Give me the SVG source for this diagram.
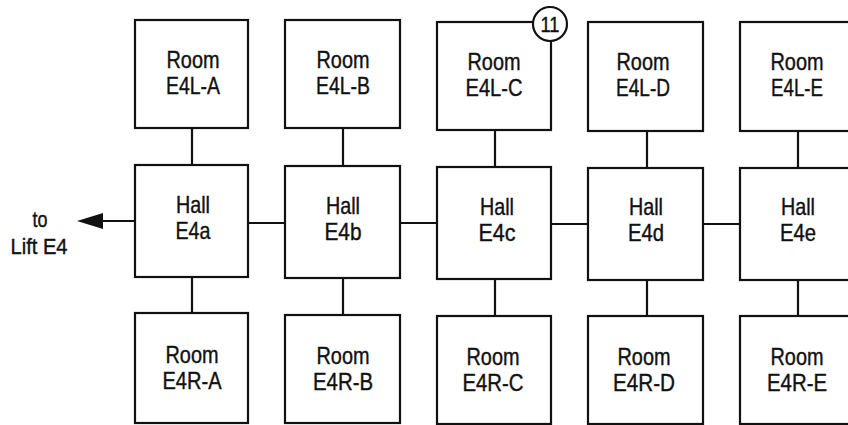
<svg xmlns="http://www.w3.org/2000/svg" width="848" height="425" viewBox="0 0 848 425">
<defs>
<style>
.box{fill:#fff;stroke:#111;stroke-width:2.2}
.ln{stroke:#111;stroke-width:2.2;fill:none}
text{font-family:"Liberation Sans",Arial,sans-serif;font-size:24px;fill:#111;stroke:#111;stroke-width:0.4;text-anchor:middle}
.sm{font-size:22px}
</style>
</defs>
<rect width="848" height="425" fill="#fff"/>
<g id="connectors">
<line class="ln" x1="192" y1="128" x2="192" y2="165"/>
<line class="ln" x1="343" y1="128" x2="343" y2="166"/>
<line class="ln" x1="495" y1="130" x2="495" y2="167"/>
<line class="ln" x1="647" y1="131" x2="647" y2="167"/>
<line class="ln" x1="798" y1="131" x2="798" y2="167"/>
<line class="ln" x1="192" y1="277" x2="192" y2="313"/>
<line class="ln" x1="343" y1="278" x2="343" y2="315"/>
<line class="ln" x1="495" y1="279" x2="495" y2="316"/>
<line class="ln" x1="647" y1="280" x2="647" y2="316"/>
<line class="ln" x1="798" y1="280" x2="798" y2="316"/>
<line class="ln" x1="248" y1="223" x2="285" y2="223"/>
<line class="ln" x1="400" y1="223" x2="437" y2="223"/>
<line class="ln" x1="551" y1="224" x2="588" y2="224"/>
<line class="ln" x1="703" y1="224" x2="740" y2="224"/>
<path class="ln" d="M135,221 L102,221"/>
<path d="M77,221 L103,213 L103,229 Z" fill="#111"/>
</g>
<g id="lift-label">
<text x="40" y="227" textLength="15" lengthAdjust="spacingAndGlyphs" class="sm">to</text>
<text x="39" y="254" textLength="57" lengthAdjust="spacingAndGlyphs" class="sm">Lift E4</text>
</g>
<g id="room-E4L-A"><rect class="box" x="135" y="20" width="113" height="108"/>
<text x="193" y="68" textLength="53" lengthAdjust="spacingAndGlyphs">Room</text>
<text x="193" y="94" textLength="54" lengthAdjust="spacingAndGlyphs">E4L-A</text></g>
<g id="room-E4L-B"><rect class="box" x="285" y="20" width="115" height="108"/>
<text x="343" y="68" textLength="53" lengthAdjust="spacingAndGlyphs">Room</text>
<text x="343" y="94" textLength="54" lengthAdjust="spacingAndGlyphs">E4L-B</text></g>
<g id="room-E4L-C"><rect class="box" x="437" y="22" width="114" height="108"/>
<text x="494" y="70" textLength="53" lengthAdjust="spacingAndGlyphs">Room</text>
<text x="494" y="96" textLength="57" lengthAdjust="spacingAndGlyphs">E4L-C</text></g>
<g id="badge-11"><circle cx="550" cy="24" r="17" fill="#fff" stroke="#111" stroke-width="2.2"/>
<text x="550" y="32" class="sm" textLength="19" lengthAdjust="spacingAndGlyphs">11</text></g>
<g id="room-E4L-D"><rect class="box" x="588" y="22" width="115" height="109"/>
<text x="643" y="70" textLength="53" lengthAdjust="spacingAndGlyphs">Room</text>
<text x="643" y="96" textLength="54" lengthAdjust="spacingAndGlyphs">E4L-D</text></g>
<g id="room-E4L-E"><rect class="box" x="740" y="22" width="114" height="109"/>
<text x="797" y="70" textLength="53" lengthAdjust="spacingAndGlyphs">Room</text>
<text x="797" y="96" textLength="52" lengthAdjust="spacingAndGlyphs">E4L-E</text></g>
<g id="hall-E4a"><rect class="box" x="135" y="165" width="113" height="112"/>
<text x="193" y="213" textLength="34" lengthAdjust="spacingAndGlyphs">Hall</text>
<text x="193" y="239" textLength="35" lengthAdjust="spacingAndGlyphs">E4a</text></g>
<g id="hall-E4b"><rect class="box" x="285" y="166" width="115" height="112"/>
<text x="343" y="214" textLength="34" lengthAdjust="spacingAndGlyphs">Hall</text>
<text x="343" y="240" textLength="37" lengthAdjust="spacingAndGlyphs">E4b</text></g>
<g id="hall-E4c"><rect class="box" x="437" y="167" width="114" height="112"/>
<text x="497" y="215" textLength="34" lengthAdjust="spacingAndGlyphs">Hall</text>
<text x="497" y="241" textLength="37" lengthAdjust="spacingAndGlyphs">E4c</text></g>
<g id="hall-E4d"><rect class="box" x="588" y="168" width="115" height="112"/>
<text x="646" y="215" textLength="34" lengthAdjust="spacingAndGlyphs">Hall</text>
<text x="646" y="241" textLength="36" lengthAdjust="spacingAndGlyphs">E4d</text></g>
<g id="hall-E4e"><rect class="box" x="740" y="168" width="114" height="112"/>
<text x="798" y="215" textLength="34" lengthAdjust="spacingAndGlyphs">Hall</text>
<text x="798" y="241" textLength="36" lengthAdjust="spacingAndGlyphs">E4e</text></g>
<g id="room-E4R-A"><rect class="box" x="135" y="313" width="113" height="110"/>
<text x="192" y="363" textLength="53" lengthAdjust="spacingAndGlyphs">Room</text>
<text x="192" y="389" textLength="59" lengthAdjust="spacingAndGlyphs">E4R-A</text></g>
<g id="room-E4R-B"><rect class="box" x="285" y="315" width="115" height="108"/>
<text x="343" y="364" textLength="53" lengthAdjust="spacingAndGlyphs">Room</text>
<text x="343" y="390" textLength="60" lengthAdjust="spacingAndGlyphs">E4R-B</text></g>
<g id="room-E4R-C"><rect class="box" x="437" y="316" width="114" height="108"/>
<text x="493" y="365" textLength="53" lengthAdjust="spacingAndGlyphs">Room</text>
<text x="493" y="391" textLength="61" lengthAdjust="spacingAndGlyphs">E4R-C</text></g>
<g id="room-E4R-D"><rect class="box" x="588" y="316" width="115" height="108"/>
<text x="644" y="365" textLength="53" lengthAdjust="spacingAndGlyphs">Room</text>
<text x="644" y="391" textLength="62" lengthAdjust="spacingAndGlyphs">E4R-D</text></g>
<g id="room-E4R-E"><rect class="box" x="740" y="316" width="114" height="108"/>
<text x="797" y="365" textLength="53" lengthAdjust="spacingAndGlyphs">Room</text>
<text x="797" y="391" textLength="60" lengthAdjust="spacingAndGlyphs">E4R-E</text></g>
</svg>
